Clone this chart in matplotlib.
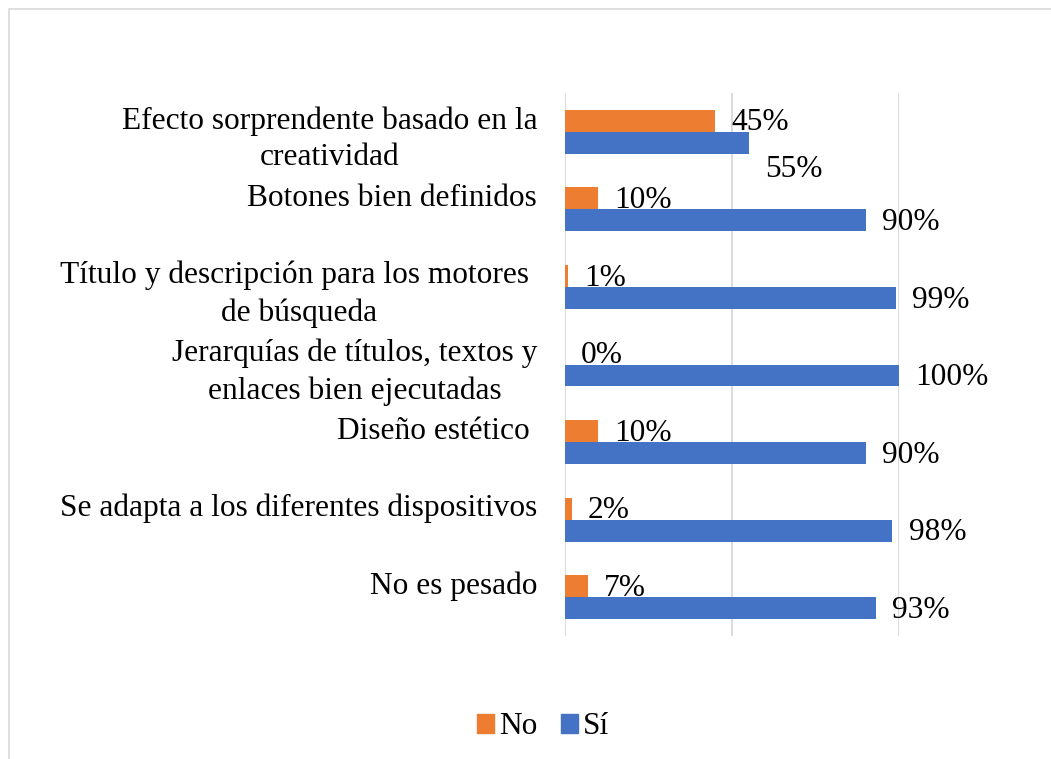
import matplotlib
matplotlib.use("Agg")
import matplotlib.pyplot as plt
from matplotlib.patches import Rectangle, Patch

plt.rcParams['font.family'] = ['Liberation Serif', 'DejaVu Serif']

# categories, top to bottom (single-line ones keep an empty second line)
categories = [
    "Efecto sorprendente basado en la\ncreatividad",
    "Botones bien definidos\n",
    "Título y descripción para los motores \nde búsqueda",
    "Jerarquías de títulos, textos y\nenlaces bien ejecutadas",
    "Diseño estético \n",
    "Se adapta a los diferentes dispositivos\n",
    "No es pesado\n",
]
no_vals = [0.45, 0.10, 0.01, 0.00, 0.10, 0.02, 0.07]
si_vals = [0.55, 0.90, 0.99, 1.00, 0.90, 0.98, 0.93]

ORANGE = "#ED7D31"
BLUE = "#4472C4"
GRID = "#D9D9D9"
FS = 22.6

W, H = 1051, 759
fig = plt.figure(figsize=(W / 100, H / 100), dpi=100)

# light chart-area border, running off the right and bottom edges
fig.add_artist(Rectangle((8.5 / W, -0.1), 1.2, 1.1 - 9 / H,
                         transform=fig.transFigure, fill=False,
                         edgecolor=GRID, linewidth=1.2))

ax = fig.add_axes([565 / W, 1 - 636 / H, (899 - 565) / W, (636 - 93) / H])

n = len(categories)
pos = list(range(n))
bh = 0.2835
ax.barh([p - bh / 2 for p in pos], no_vals, height=bh, color=ORANGE, label="No", zorder=3)
ax.barh([p + bh / 2 for p in pos], si_vals, height=bh, color=BLUE, label="Sí", zorder=3)

ax.set_xlim(0, 1)
ax.set_ylim(n - 0.5, -0.5)
ax.set_xticks([0, 0.5, 1.0])
ax.set_xticklabels([])
ax.grid(axis="x", color=GRID, linewidth=1.3, zorder=0)
ax.tick_params(axis="both", length=0)
for s in ax.spines.values():
    s.set_visible(False)

ax.set_yticks(pos)
ax.set_yticklabels(categories, fontsize=FS, linespacing=1.36)
ax.tick_params(axis="y", pad=20)
for lbl in ax.get_yticklabels():
    lbl.set_multialignment("center")

# value labels just past the bar ends
for i in pos:
    ax.annotate(f"{no_vals[i]:.0%}", (no_vals[i], i - bh / 2),
                xytext=(11.5, -1.5), textcoords="offset points",
                ha="left", va="center", fontsize=FS, zorder=4)
    dy = -19 if i == 0 else -1.5
    ax.annotate(f"{si_vals[i]:.0%}", (si_vals[i], i + bh / 2),
                xytext=(12, dy), textcoords="offset points",
                ha="left", va="center", fontsize=FS, zorder=4)

handles = [Patch(color=ORANGE, label="No"), Patch(color=BLUE, label="Sí")]
fig.legend(handles=handles, loc="center", bbox_to_anchor=(543 / W, 1 - 727 / H),
           ncol=2, frameon=False, fontsize=FS, handlelength=0.55, handleheight=0.55,
           handletextpad=0.15, columnspacing=0.75)

fig.savefig("out.png", dpi=100)
